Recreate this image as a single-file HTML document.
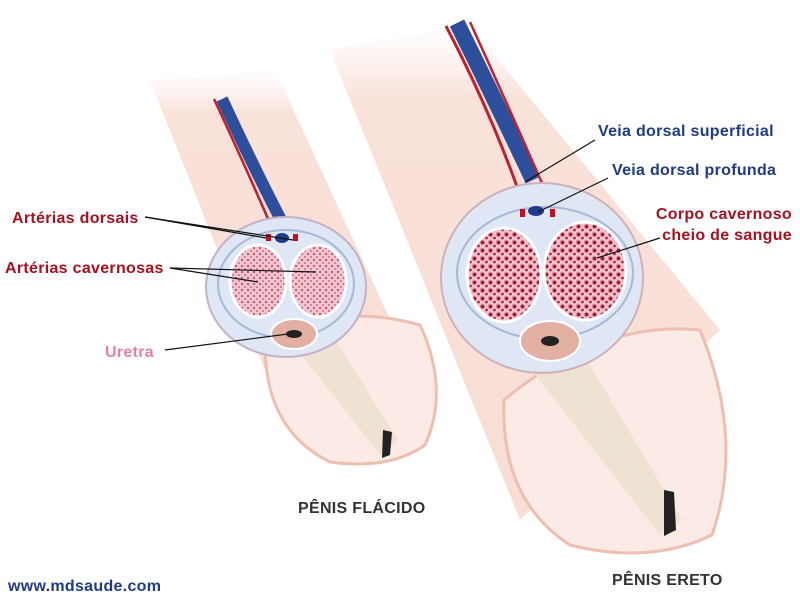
<!DOCTYPE html>
<html><head><meta charset="utf-8"><style>
body{margin:0;background:#fff}
svg{display:block}
text{font-family:"Liberation Sans",sans-serif;font-weight:bold;font-size:16px;letter-spacing:0.3px}
</style></head><body>
<svg width="800" height="600" viewBox="0 0 800 600" xmlns="http://www.w3.org/2000/svg">
<defs>
<linearGradient id="sk" x1="0" y1="0" x2="0" y2="1"><stop offset="0" stop-color="#fbe8e2" stop-opacity="0"/><stop offset="0.15" stop-color="#f9e2da"/><stop offset="1" stop-color="#f8ded5"/></linearGradient>
<pattern id="d1" width="6" height="6" patternUnits="userSpaceOnUse"><rect width="6" height="6" fill="#f2c4d0"/><circle cx="2" cy="2" r="1" fill="#c0304a"/><circle cx="5" cy="5" r="0.8" fill="#c0304a"/></pattern>
<pattern id="d2" width="8" height="8" patternUnits="userSpaceOnUse"><rect width="8" height="8" fill="#f0c0cc"/><circle cx="2.5" cy="2.5" r="2" fill="#b01830"/><circle cx="6.5" cy="6" r="1.3" fill="#b01830"/></pattern>
</defs>
<!-- left shaft -->
<path d="M150 80 L275 70 L395 330 L265 370 Z" fill="url(#sk)"/>
<path d="M265 345 Q330 300 420 325 Q450 390 425 445 Q390 470 330 462 Q265 430 265 345 Z" fill="#fbeae5" stroke="#eebfb0" stroke-width="3"/>
<path d="M282 330 L322 318 L398 440 L380 455 Z" fill="#eee3d3"/>
<path d="M383 430 L392 432 L390 455 L382 458 Z" fill="#222"/>
<path d="M222 99 Q255 170 281 220" stroke="#2d4e9a" stroke-width="12" fill="none"/>
<path d="M214 99 Q247 170 272 228" stroke="#c02030" stroke-width="2.5" fill="none"/>
<!-- left section -->
<ellipse cx="286" cy="287" rx="80" ry="70" fill="#dfe6f4" stroke="#c4b0c8" stroke-width="2"/>
<ellipse cx="286" cy="284" rx="68" ry="54" fill="none" stroke="#a8b8d8" stroke-width="2"/>
<ellipse cx="258" cy="281" rx="28" ry="36" fill="url(#d1)" stroke="#fff" stroke-width="3"/>
<ellipse cx="318" cy="281" rx="28" ry="36" fill="url(#d1)" stroke="#fff" stroke-width="3"/>
<ellipse cx="294" cy="334" rx="23" ry="15" fill="#e2b0a2" stroke="#fff" stroke-width="2"/>
<ellipse cx="294" cy="334" rx="8" ry="4" fill="#222"/>
<rect x="266" y="234" width="5" height="7" fill="#c01020"/><rect x="293" y="234" width="5" height="7" fill="#c01020"/>
<ellipse cx="282" cy="238" rx="7" ry="5" fill="#1e3c8a"/>
<!-- right shaft -->
<path d="M330 50 L470 25 L720 330 L520 520 Z" fill="url(#sk)"/>
<path d="M504 400 Q600 320 700 330 Q745 440 712 535 Q650 565 570 545 Q500 500 504 400 Z" fill="#fbeae5" stroke="#eebfb0" stroke-width="3"/>
<path d="M520 355 L575 340 L682 520 L660 535 Z" fill="#eee3d3"/>
<path d="M664 490 L674 492 L676 530 L664 536 Z" fill="#222"/>
<path d="M457 23 Q500 110 533 180" stroke="#2d4e9a" stroke-width="16" fill="none"/>
<path d="M446 26 Q490 110 520 195" stroke="#c02030" stroke-width="3" fill="none"/>
<path d="M470 22 Q510 110 545 190" stroke="#c02030" stroke-width="2.5" fill="none"/>
<!-- right section -->
<ellipse cx="542" cy="278" rx="101" ry="95" fill="#dfe6f4" stroke="#d0b0b8" stroke-width="2"/>
<ellipse cx="545" cy="273" rx="88" ry="66" fill="none" stroke="#a8b8d8" stroke-width="2"/>
<ellipse cx="504" cy="275" rx="37" ry="47" fill="url(#d2)" stroke="#fff" stroke-width="3"/>
<ellipse cx="585" cy="271" rx="41" ry="49" fill="url(#d2)" stroke="#fff" stroke-width="3"/>
<ellipse cx="550" cy="341" rx="30" ry="20" fill="#e2b0a2" stroke="#fff" stroke-width="2"/>
<ellipse cx="550" cy="341" rx="9" ry="5" fill="#222"/>
<rect x="520" y="209" width="5" height="8" fill="#c01020"/><rect x="550" y="209" width="5" height="8" fill="#c01020"/>
<ellipse cx="536" cy="211" rx="8" ry="5" fill="#1e3c8a"/>
<!-- leaders -->
<g stroke="#111" stroke-width="1.2" fill="none">
<line x1="145" y1="217" x2="266" y2="238"/><line x1="145" y1="217" x2="293" y2="240"/>
<line x1="170" y1="268" x2="258" y2="282"/><line x1="170" y1="268" x2="316" y2="272"/>
<line x1="165" y1="350" x2="288" y2="334"/>
<line x1="595" y1="140" x2="525" y2="182"/>
<line x1="608" y1="178" x2="538" y2="212"/>
<line x1="660" y1="238" x2="597" y2="258"/>
</g>
<text x="12" y="223" fill="#a8101e">Artérias dorsais</text>
<text x="5" y="273" fill="#a8101e">Artérias cavernosas</text>
<text x="105" y="357" fill="#ef7fa0">Uretra</text>
<text x="598" y="136" fill="#1f3a8a">Veia dorsal superficial</text>
<text x="612" y="175" fill="#1f3a8a">Veia dorsal profunda</text>
<text x="792" y="219" fill="#a8101e" text-anchor="end">Corpo cavernoso</text>
<text x="792" y="240" fill="#a8101e" text-anchor="end">cheio de sangue</text>
<text x="298" y="513" fill="#333">PÊNIS FLÁCIDO</text>
<text x="612" y="585" fill="#333">PÊNIS ERETO</text>
<text x="8" y="591" fill="#1f3a8a">www.mdsaude.com</text>
</svg>
</body></html>
